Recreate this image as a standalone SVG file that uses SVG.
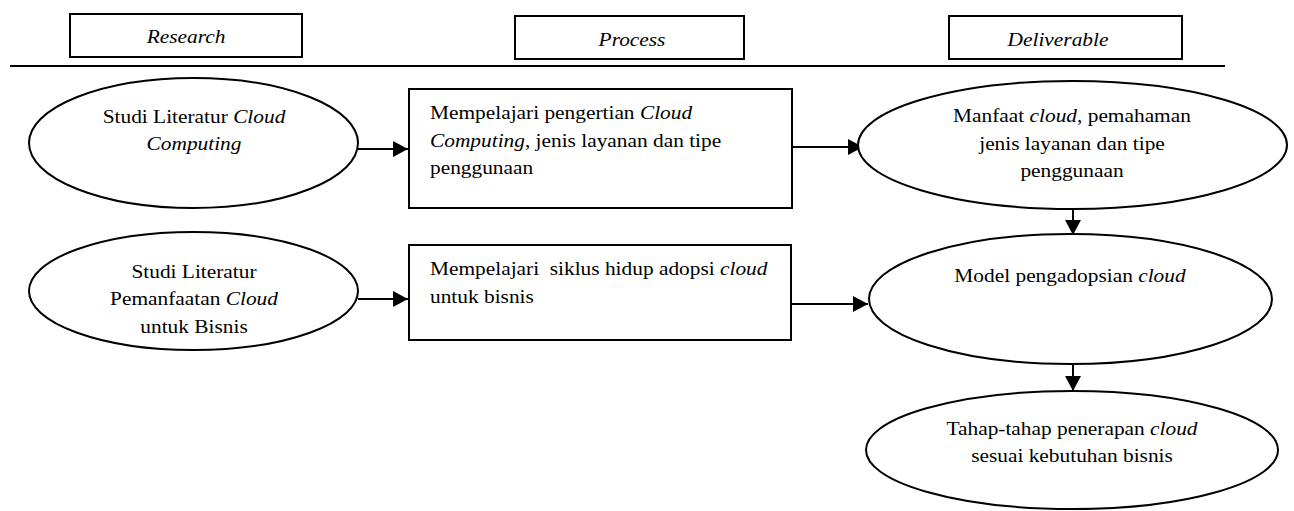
<svg xmlns="http://www.w3.org/2000/svg" width="1294" height="511" viewBox="0 0 1294 511">
<style>
.sh{fill:#fff;stroke:#000;stroke-width:2}
.t{font-family:"Liberation Serif","Times New Roman",serif;font-size:18.67px;fill:#000}
.c{text-anchor:middle}
.i{font-style:italic}
.cn{stroke:#000;stroke-width:2;fill:none;marker-end:url(#ah)}
</style>
<defs>
<marker id="ah" markerUnits="userSpaceOnUse" markerWidth="16" markerHeight="16" refX="15" refY="8" orient="auto">
<path d="M0,0 L15,8 L0,16 Z" fill="#000"/>
</marker>
</defs>
<rect width="1294" height="511" fill="#fff"/>
<g id="header-research">
<rect class="sh" x="70" y="14" width="232" height="43"/>
<text class="t c i" transform="translate(186,43) scale(1.145,1)">Research</text>
</g>
<g id="header-process">
<rect class="sh" x="515" y="16" width="229" height="43"/>
<text class="t c i" transform="translate(632,46) scale(1.145,1)">Process</text>
</g>
<g id="header-deliverable">
<rect class="sh" x="949" y="16" width="233" height="43"/>
<text class="t c i" transform="translate(1058,46) scale(1.145,1)">Deliverable</text>
</g>
<g id="divider">
<line x1="10" y1="66" x2="1225" y2="66" stroke="#000" stroke-width="2"/>
</g>
<g id="connectors">
<line class="cn" x1="358" y1="149" x2="408" y2="149"/>
<line class="cn" x1="787" y1="147" x2="863" y2="147"/>
<line class="cn" x1="358" y1="299" x2="408" y2="299"/>
<line class="cn" x1="790" y1="304" x2="868" y2="304"/>
<line class="cn" x1="1073" y1="209" x2="1073" y2="235"/>
<line class="cn" x1="1073" y1="364" x2="1073" y2="391"/>
</g>
<g id="n-studi-cc">
<ellipse class="sh" cx="193.5" cy="143" rx="164.5" ry="65"/>
<text class="t c" transform="translate(194,123) scale(1.145,1)">Studi Literatur <tspan class="i">Cloud</tspan></text>
<text class="t c i" transform="translate(194,150) scale(1.145,1)">Computing</text>
</g>
<g id="n-studi-bisnis">
<ellipse class="sh" cx="193.5" cy="291" rx="164.5" ry="59"/>
<text class="t c" transform="translate(194,277.5) scale(1.145,1)">Studi Literatur</text>
<text class="t c" transform="translate(194,305) scale(1.145,1)">Pemanfaatan <tspan class="i">Cloud</tspan></text>
<text class="t c" transform="translate(194,332.5) scale(1.145,1)">untuk Bisnis</text>
</g>
<g id="n-proc-cc">
<rect class="sh" x="409" y="89" width="383" height="119"/>
<text class="t" transform="translate(430,118.5) scale(1.145,1)">Mempelajari pengertian <tspan class="i">Cloud</tspan></text>
<text class="t" transform="translate(430,146.5) scale(1.145,1)"><tspan class="i">Computing</tspan>, jenis layanan dan tipe</text>
<text class="t" transform="translate(430,173.5) scale(1.145,1)">penggunaan</text>
</g>
<g id="n-proc-bisnis">
<rect class="sh" x="409" y="245" width="382" height="95"/>
<text class="t" style="white-space:pre" transform="translate(430,275) scale(1.145,1)">Mempelajari  siklus hidup adopsi <tspan class="i">cloud</tspan></text>
<text class="t" transform="translate(430,303) scale(1.145,1)">untuk bisnis</text>
</g>
<g id="n-manfaat">
<ellipse class="sh" cx="1072.5" cy="145" rx="214.5" ry="64"/>
<text class="t c" transform="translate(1072,122) scale(1.145,1)">Manfaat <tspan class="i">cloud</tspan>, pemahaman</text>
<text class="t c" transform="translate(1072,150) scale(1.145,1)">jenis layanan dan tipe</text>
<text class="t c" transform="translate(1072,177) scale(1.145,1)">penggunaan</text>
</g>
<g id="n-model">
<ellipse class="sh" cx="1070.5" cy="299" rx="201.5" ry="65"/>
<text class="t c" transform="translate(1070,282) scale(1.145,1)">Model pengadopsian <tspan class="i">cloud</tspan></text>
</g>
<g id="n-tahap">
<ellipse class="sh" cx="1072" cy="450" rx="206" ry="59"/>
<text class="t c" transform="translate(1072,435) scale(1.145,1)">Tahap-tahap penerapan <tspan class="i">cloud</tspan></text>
<text class="t c" transform="translate(1072,462) scale(1.145,1)">sesuai kebutuhan bisnis</text>
</g>
</svg>
